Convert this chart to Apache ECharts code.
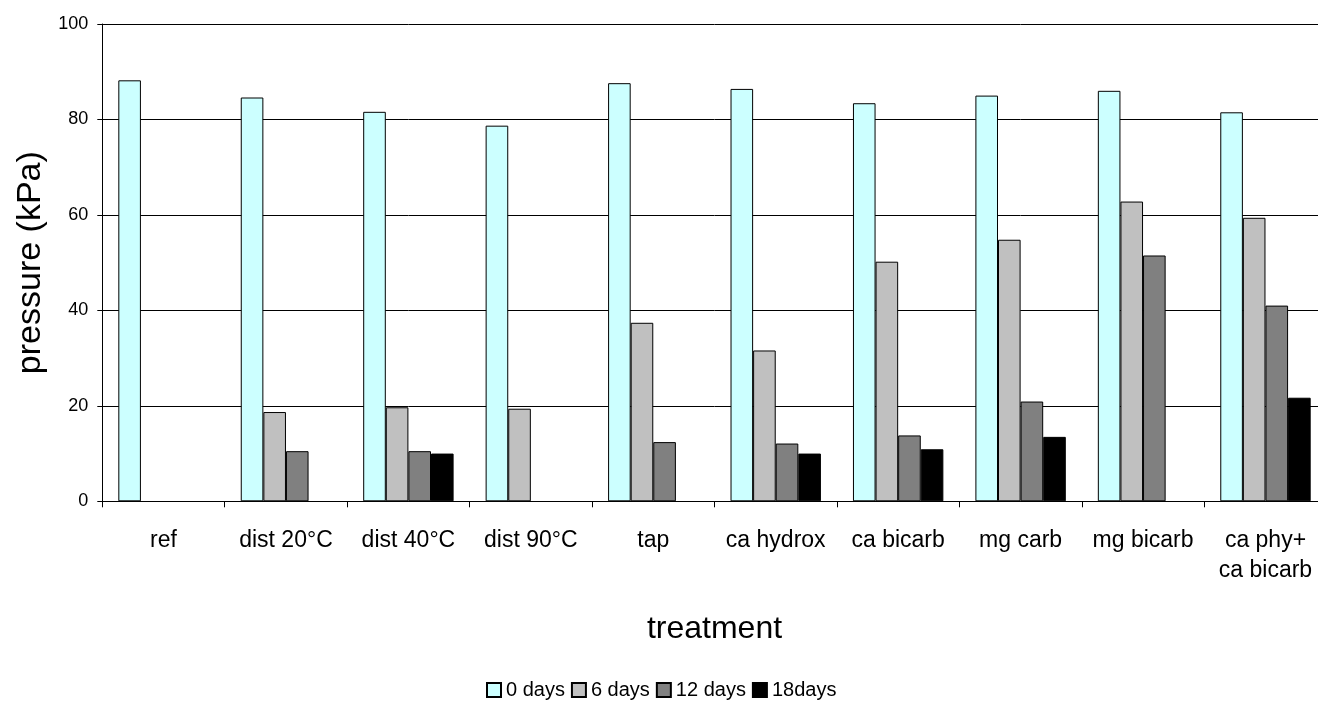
<!DOCTYPE html>
<html>
<head>
<meta charset="utf-8">
<script src="https://cdn.jsdelivr.net/npm/echarts@6/dist/echarts.min.js"></script>
<style>
html,body{margin:0;padding:0;background:#fff;overflow:hidden;width:1318px;height:702px;}
#chart{width:1327px;height:702px;}
</style>
</head>
<body>
<div id="chart"></div>
<script>
const categories = ['ref', 'dist 20°C', 'dist 40°C', 'dist 90°C', 'tap', 'ca hydrox', 'ca bicarb', 'mg carb', 'mg bicarb', 'ca phy+\nca bicarb'];
const seriesNames = ['0 days', '6 days', '12 days', '18days'];
const days0  = [88.2, 84.6, 81.6, 78.7, 87.6, 86.4, 83.4, 85.0, 86.0, 81.5];
const days6  = [null, 18.7, 19.7, 19.4, 37.4, 31.6, 50.2, 54.8, 62.8, 59.4];
const days12 = [null, 10.5, 10.5, null, 12.4, 12.1, 13.8, 20.9, 51.5, 41.0];
const days18 = [null, null, 10.0, null, null, 10.0, 10.9, 13.5, null, 21.7];
const yTicks = [0, 20, 40, 60, 80, 100];
const colors = ['#CCFFFF', '#C0C0C0', '#808080', '#000000'];

const font = 'Liberation Sans, Arial, sans-serif';
const dataSets = [days0, days6, days12, days18];

const chart = echarts.init(document.getElementById('chart'), null, {renderer: 'canvas'});
chart.setOption({
  animation: false,
  backgroundColor: '#ffffff',
  textStyle: {fontFamily: font, color: '#000'},
  grid: {left: 102.3, top: 24, right: 0.3, height: 477.3, containLabel: false},
  legend: {
    data: seriesNames,
    top: 680,
    left: 486,
    padding: 0,
    itemWidth: 14,
    itemHeight: 14,
    itemGap: 6,
    icon: 'rect',
    textStyle: {fontFamily: font, fontSize: 20, color: '#000'}
  },
  xAxis: {
    type: 'category',
    data: categories,
    name: 'treatment',
    nameLocation: 'middle',
    nameGap: 112,
    nameTextStyle: {fontFamily: font, fontSize: 32, color: '#000'},
    axisLine: {show: true, lineStyle: {color: '#000', width: 1}},
    axisTick: {show: true, length: 6, alignWithLabel: false, lineStyle: {color: '#000'}},
    axisLabel: {fontFamily: font, fontSize: 23, color: '#000', margin: 24, lineHeight: 30, interval: 0},
    splitLine: {show: false}
  },
  yAxis: {
    type: 'value',
    min: yTicks[0],
    max: yTicks[yTicks.length - 1],
    interval: 20,
    name: 'pressure (kPa)',
    nameLocation: 'middle',
    nameGap: 55,
    nameTextStyle: {fontFamily: font, fontSize: 34, color: '#000'},
    axisLine: {show: true, lineStyle: {color: '#000', width: 1}},
    axisTick: {show: true, length: 5, lineStyle: {color: '#000'}},
    axisLabel: {fontFamily: font, fontSize: 18, color: '#000', margin: 14},
    splitLine: {show: true, lineStyle: {color: '#000', width: 1}}
  },
  series: seriesNames.map((n, i) => ({
    name: n,
    type: 'bar',
    data: dataSets[i],
    barWidth: 22.6,
    barGap: '0%',
    itemStyle: {color: colors[i], borderColor: '#000', borderWidth: 1}
  }))
});
</script>
</body>
</html>
